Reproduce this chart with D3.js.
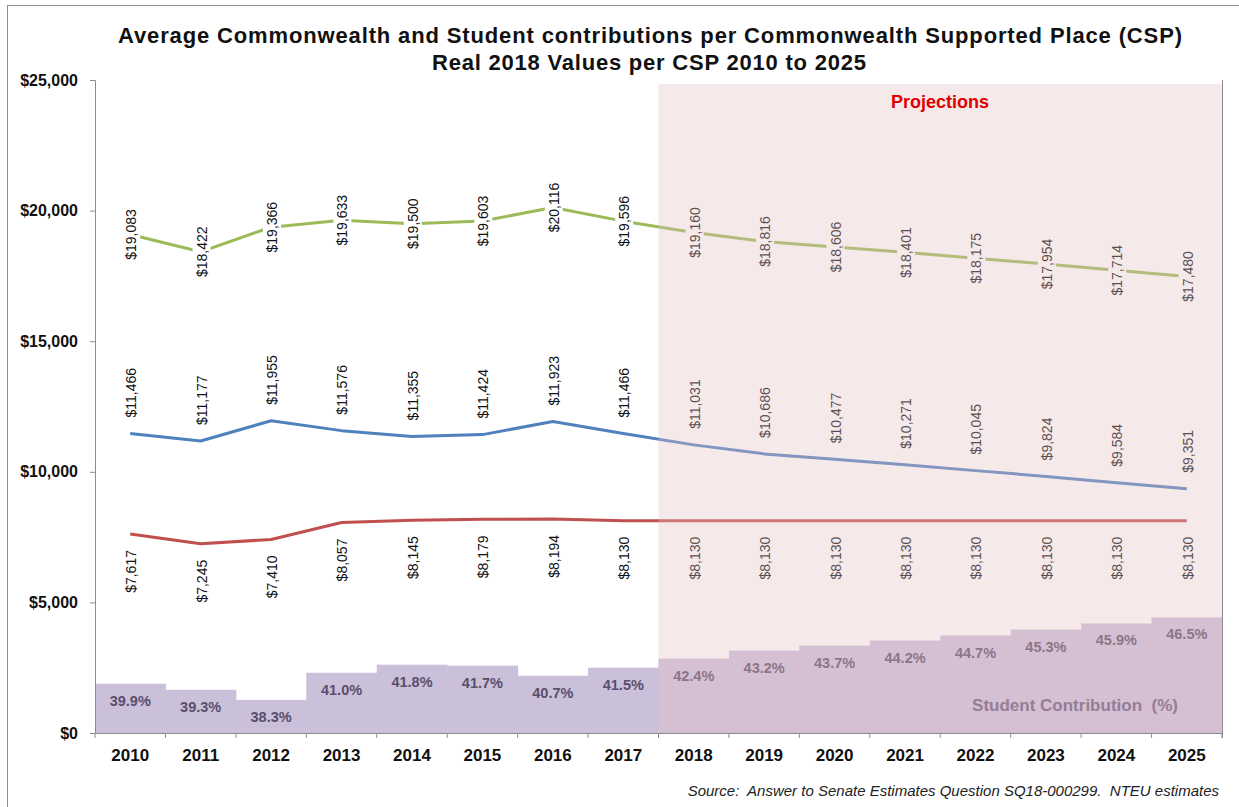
<!DOCTYPE html>
<html>
<head>
<meta charset="utf-8">
<script src="https://cdn.jsdelivr.net/npm/d3@7"></script>
<style>
  html, body { margin: 0; padding: 0; background: #fff; }
  svg { display: block; font-family: "Liberation Sans", Arial, sans-serif; }
</style>
</head>
<body>
<svg id="chart" width="1239" height="807"></svg>
<script>
// Years on the x axis
const years = ["2010","2011","2012","2013","2014","2015","2016","2017",
               "2018","2019","2020","2021","2022","2023","2024","2025"];
// Total funding per CSP (Commonwealth + student), real 2018 dollars
const totalPerCsp = [19083,18422,19366,19633,19500,19603,20116,19596,
                     19160,18816,18606,18401,18175,17954,17714,17480];
// Commonwealth contribution per CSP
const commonwealthPerCsp = [11466,11177,11955,11576,11355,11424,11923,11466,
                            11031,10686,10477,10271,10045,9824,9584,9351];
// Student contribution per CSP
const studentPerCsp = [7617,7245,7410,8057,8145,8179,8194,8130,
                       8130,8130,8130,8130,8130,8130,8130,8130];
// Student contribution as a share of the total (%)
const studentShare = [39.9,39.3,38.3,41.0,41.8,41.7,40.7,41.5,
                      42.4,43.2,43.7,44.2,44.7,45.3,45.9,46.5];
// Left axis ticks
const yTicks = [0,5000,10000,15000,20000,25000];
// First projected year
const projectionStart = "2018";

const svg = d3.select("#chart");
const m = {left: 95, right: 1222, top: 80, bottom: 733};

const x = d3.scaleBand().domain(years).range([m.left, m.right]).padding(0);
const y = d3.scaleLinear().domain([0, 25000]).range([m.bottom, m.top]);
// hidden secondary axis for the share steps
const y2 = d3.scaleLinear().domain([35, 100]).range([m.bottom, m.top]);
const cx = d => x(d) + x.bandwidth() / 2;
const money = v => "$" + d3.format(",")(v);

// outer frame
svg.append("rect").attr("x", 7.5).attr("y", 5.5).attr("width", 1300).attr("height", 900)
  .attr("fill", "none").attr("stroke", "#8c8c8c").attr("stroke-width", 1);

// titles
svg.append("text").attr("x", 650).attr("y", 43).attr("text-anchor", "middle")
  .attr("font-size", 22).attr("font-weight", "bold").attr("fill", "#111")
  .attr("textLength", 1064).attr("lengthAdjust", "spacing")
  .text("Average Commonwealth and Student contributions per Commonwealth Supported Place (CSP)");
svg.append("text").attr("x", 649).attr("y", 70).attr("text-anchor", "middle")
  .attr("font-size", 22).attr("font-weight", "bold").attr("fill", "#111")
  .attr("textLength", 434).attr("lengthAdjust", "spacing")
  .text("Real 2018 Values per CSP 2010 to 2025");

// student share steps
svg.append("g").selectAll("rect").data(years).join("rect")
  .attr("x", d => x(d))
  .attr("width", x.bandwidth() + 0.5)
  .attr("y", (d, i) => y2(studentShare[i]))
  .attr("height", (d, i) => m.bottom - y2(studentShare[i]))
  .attr("fill", "#cbc0da");

svg.append("g").selectAll("text").data(years).join("text")
  .attr("x", d => cx(d))
  .attr("y", (d, i) => y2(studentShare[i]) + 22)
  .attr("text-anchor", "middle").attr("font-size", 14.5).attr("font-weight", "bold")
  .attr("fill", "#5a4e6c")
  .text((d, i) => studentShare[i].toFixed(1) + "%");

svg.append("text").attr("x", 1075).attr("y", 711).attr("text-anchor", "middle")
  .attr("font-size", 17).attr("font-weight", "bold").attr("fill", "#6a5a80")
  .attr("xml:space", "preserve")
  .text("Student Contribution  (%)");

// axes
const yAxis = d3.axisLeft(y).tickValues(yTicks).tickSize(5).tickFormat(money);
const gy = svg.append("g").attr("transform", `translate(${m.left},0)`).call(yAxis);
gy.select(".domain").attr("stroke", "#8c8c8c");
gy.selectAll(".tick line").attr("stroke", "#8c8c8c");
gy.selectAll(".tick text").attr("x", -17).attr("font-size", 16).attr("font-weight", "bold")
  .attr("fill", "#111").attr("font-family", "'Liberation Sans', Arial, sans-serif");

const xAxis = d3.axisBottom(x).tickSize(0);
const gx = svg.append("g").attr("transform", `translate(0,${m.bottom})`).call(xAxis);
gx.select(".domain").attr("stroke", "#8c8c8c");
gx.selectAll(".tick text").attr("y", 28).attr("dy", 0).attr("font-size", 17).attr("font-weight", "bold")
  .attr("fill", "#111").attr("font-family", "'Liberation Sans', Arial, sans-serif");
// category separators
svg.append("g").selectAll("line").data(d3.range(years.length + 1)).join("line")
  .attr("x1", i => m.left + i * x.bandwidth()).attr("x2", i => m.left + i * x.bandwidth())
  .attr("y1", m.bottom).attr("y2", m.bottom + 5)
  .attr("stroke", "#8c8c8c");
// right edge of plot
svg.append("line").attr("x1", m.right + 0.5).attr("x2", m.right + 0.5)
  .attr("y1", m.top).attr("y2", m.bottom + 5).attr("stroke", "#8c8c8c");

// lines
const series = [
  {values: totalPerCsp, color: "#9bbb59"},
  {values: commonwealthPerCsp, color: "#4f81bd"},
  {values: studentPerCsp, color: "#c0504d"}
];
const line = vals => d3.line().x(d => cx(d)).y((d, i) => y(vals[i]))(years);
series.forEach(s => {
  svg.append("path").attr("d", line(s.values)).attr("fill", "none")
    .attr("stroke", s.color).attr("stroke-width", 3).attr("stroke-linejoin", "round");
});

// value labels (rotated)
function labels(vals, mode) {
  const g = svg.append("g");
  years.forEach((d, i) => {
    const px = cx(d), py = y(vals[i]);
    const t = g.append("text")
      .attr("transform", `translate(${px + 1},${py}) rotate(-90)`)
      .attr("dy", "0.35em").attr("font-size", 14).attr("fill", "#111")
      .text(money(vals[i]));
    if (mode === "center") {
      t.attr("text-anchor", "middle");
      const b = t.node().getBBox();
      g.insert("rect", () => t.node())
        .attr("transform", `translate(${px + 1},${py}) rotate(-90)`)
        .attr("x", b.x - 3).attr("y", b.y - 1).attr("width", b.width + 6).attr("height", b.height + 2)
        .attr("fill", "#fff");
    } else if (mode === "above") {
      t.attr("text-anchor", "start").attr("x", 16);
    } else {
      t.attr("text-anchor", "end").attr("x", -16);
    }
  });
}
labels(totalPerCsp, "center");
labels(commonwealthPerCsp, "above");
labels(studentPerCsp, "below");

// projection shading, laid over the projected years
svg.append("rect")
  .attr("x", x(projectionStart)).attr("y", 84)
  .attr("width", m.right - x(projectionStart)).attr("height", m.bottom - 84)
  .attr("fill", "rgb(229,191,194)").attr("fill-opacity", 0.346);

svg.append("text").attr("x", 940).attr("y", 108).attr("text-anchor", "middle")
  .attr("font-size", 18).attr("font-weight", "bold").attr("fill", "#e00000")
  .text("Projections");

// source note
svg.append("text").attr("x", 1219).attr("y", 796).attr("text-anchor", "end")
  .attr("font-size", 15).attr("font-style", "italic").attr("fill", "#222")
  .attr("xml:space", "preserve")
  .text("Source:  Answer to Senate Estimates Question SQ18-000299.  NTEU estimates");
</script>
</body>
</html>
